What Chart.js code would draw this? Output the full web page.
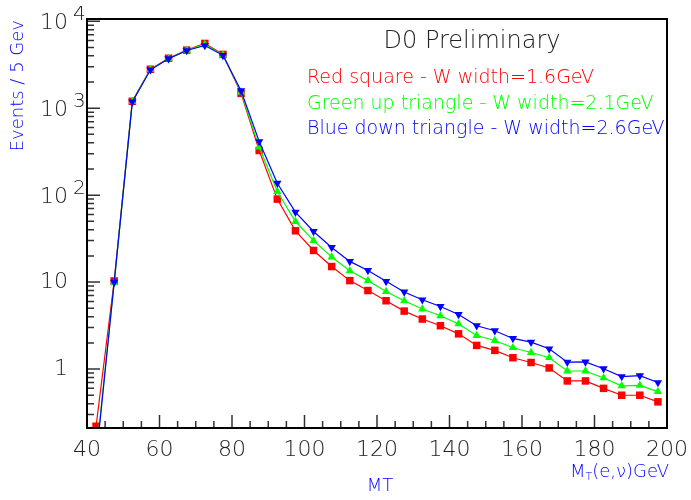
<!DOCTYPE html>
<html>
<head>
<meta charset="utf-8">
<title>D0 Preliminary - W transverse mass</title>
<script src="https://cdn.jsdelivr.net/npm/chart.js@4.4.1/dist/chart.umd.min.js"></script>
<style>
  html, body { margin: 0; padding: 0; background: #fff; }
  #chart { display: block; }
</style>
</head>
<body>
<canvas id="chart" width="691" height="500"></canvas>
<script>
// bin centres (GeV), 5 GeV bins
const mtBins = [42.5, 47.5, 52.5, 57.5, 62.5, 67.5, 72.5, 77.5, 82.5, 87.5,
  92.5, 97.5, 102.5, 107.5, 112.5, 117.5, 122.5, 127.5, 132.5, 137.5,
  142.5, 147.5, 152.5, 157.5, 162.5, 167.5, 172.5, 177.5, 182.5, 187.5,
  192.5, 197.5];

// events / 5 GeV
const width16 = [0.22, 10.3, 1200, 2800, 3750, 4650, 5550, 4150, 1480, 326,
  90, 38.9, 23.1, 15.1, 10.4, 8.0, 6.1, 4.64, 3.76, 3.15,
  2.54, 1.87, 1.64, 1.35, 1.19, 1.03, 0.73, 0.73, 0.60, 0.50,
  0.50, 0.42];
const width21 = [0.1, 9.8, 1190, 2780, 3700, 4620, 5400, 4080, 1530, 357,
  110, 49.7, 30.0, 19.4, 13.5, 10.4, 7.8, 6.1, 4.9, 4.1,
  3.3, 2.43, 2.13, 1.76, 1.55, 1.35, 0.95, 0.95, 0.79, 0.64,
  0.65, 0.55];
const width26 = [0.09, 10, 1180, 2760, 3700, 4600, 5250, 4050, 1590, 413,
  137, 63.8, 38.2, 25.0, 17.3, 13.6, 10.2, 7.7, 6.26, 5.24,
  4.25, 3.15, 2.76, 2.25, 2.04, 1.71, 1.20, 1.21, 1.01, 0.82,
  0.84, 0.70];

// axis ticks
const xTickLabels = [40, 60, 80, 100, 120, 140, 160, 180, 200];
const yTickValues = [1, 10, 100, 1000, 10000];
const yTickBase = ['1', '10', '10', '10', '10'];
const yTickExp = ['', '', '2', '3', '4'];

const plotTitle = 'D0 Preliminary';
const legendLines = [
  'Red square - W width=1.6GeV',
  'Green up triangle - W width=2.1GeV',
  'Blue down triangle - W width=2.6GeV'
];
const legendColors = ['#ff0000', '#00ff00', '#0000ff'];

const FONT = '"DejaVu Sans", sans-serif';
const THIN = '200 ';

function toPoints(values) {
  return mtBins.map((x, i) => ({ x: x, y: values[i] }));
}

// ROOT-like frame, ticks and texts drawn on top of the chart
const rootStyle = {
  id: 'rootStyle',
  afterDraw(chart) {
    const ctx = chart.ctx;
    const area = chart.chartArea;
    const xs = chart.scales.x;
    const ys = chart.scales.y;
    ctx.save();

    // tick marks
    ctx.strokeStyle = '#333';
    ctx.lineWidth = 1.5;
    ctx.beginPath();
    for (let v = xs.min; v <= xs.max; v += 5) {
      const px = xs.getPixelForValue(v);
      const len = v % 20 === 0 ? 13 : 7;
      ctx.moveTo(px, area.bottom);
      ctx.lineTo(px, area.bottom - len);
    }
    for (let e = -1; e <= 4; e++) {
      for (let k = 1; k <= 9; k++) {
        const v = k * Math.pow(10, e);
        if (v < ys.min || v > ys.max) continue;
        const py = ys.getPixelForValue(v);
        const len = k === 1 ? 13 : 7;
        ctx.moveTo(area.left, py);
        ctx.lineTo(area.left + len, py);
      }
    }
    ctx.stroke();

    // frame
    ctx.strokeStyle = '#000';
    ctx.lineWidth = 2;
    ctx.strokeRect(area.left, area.top, area.right - area.left, area.bottom - area.top);

    // x tick labels
    ctx.fillStyle = '#222';
    ctx.font = THIN + '22px ' + FONT;
    ctx.textAlign = 'center';
    ctx.textBaseline = 'middle';
    xTickLabels.forEach(v => {
      ctx.fillText(String(v), xs.getPixelForValue(v), 450);
    });

    // y tick labels (10 with exponent)
    yTickValues.forEach((v, i) => {
      const py = ys.getPixelForValue(v);
      ctx.font = THIN + '22px ' + FONT;
      ctx.textAlign = 'right';
      ctx.textBaseline = 'middle';
      if (yTickExp[i] === '') {
        ctx.fillText(yTickBase[i], 68, py);
      } else {
        ctx.fillText(yTickBase[i], 68, py + 2);
        ctx.font = THIN + '20px ' + FONT;
        ctx.textAlign = 'left';
        ctx.textBaseline = 'alphabetic';
        ctx.fillText(yTickExp[i], 73, py - 1);
      }
    });

    // axis titles
    ctx.fillStyle = '#0000ff';
    ctx.font = THIN + '18px ' + FONT;
    ctx.save();
    ctx.translate(18, 20);
    ctx.rotate(-Math.PI / 2);
    ctx.textAlign = 'right';
    ctx.textBaseline = 'middle';
    ctx.fillText('Events / 5 Gev', 0, 0);
    ctx.restore();

    ctx.textAlign = 'center';
    ctx.textBaseline = 'middle';
    ctx.fillText('MT', 380, 486);

    // M_T(e,nu)GeV, right aligned under the axis end
    ctx.textBaseline = 'alphabetic';
    ctx.textAlign = 'left';
    const bigFont = THIN + '18px ' + FONT;
    const subFont = THIN + '11px ' + FONT;
    ctx.font = bigFont;
    const wM = ctx.measureText('M').width;
    const wRest = ctx.measureText('(e,\u03bd)GeV').width;
    ctx.font = subFont;
    const wT = ctx.measureText('T').width;
    const x0 = 669 - (wM + wT + wRest);
    ctx.font = bigFont;
    ctx.fillText('M', x0, 477);
    ctx.font = subFont;
    ctx.fillText('T', x0 + wM, 480);
    ctx.font = bigFont;
    ctx.fillText('(e,\u03bd)GeV', x0 + wM + wT, 477);

    // title and legend texts
    ctx.fillStyle = '#222';
    ctx.font = THIN + '24px ' + FONT;
    ctx.textAlign = 'center';
    ctx.fillText(plotTitle, 472, 48);

    ctx.font = THIN + '19px ' + FONT;
    ctx.textAlign = 'left';
    legendLines.forEach((line, i) => {
      ctx.fillStyle = legendColors[i];
      ctx.fillText(line, 307, 83 + i * 25.5);
    });

    ctx.restore();
  }
};

const config = {
  type: 'line',
  data: {
    datasets: [
      {
        label: legendLines[2],
        data: toPoints(width26),
        borderColor: '#0000ff',
        backgroundColor: '#0000ff',
        borderWidth: 1.2,
        pointStyle: 'triangle',
        rotation: 180,
        pointRadius: 4.8,
        pointBorderWidth: 0,
        order: 0
      },
      {
        label: legendLines[1],
        data: toPoints(width21),
        borderColor: '#00ff00',
        backgroundColor: '#00ff00',
        borderWidth: 1.2,
        pointStyle: 'triangle',
        pointRadius: 4.8,
        pointBorderWidth: 0,
        order: 1
      },
      {
        label: legendLines[0],
        data: toPoints(width16),
        borderColor: '#ff0000',
        backgroundColor: '#ff0000',
        borderWidth: 1.2,
        pointStyle: 'rect',
        pointRadius: 5.3,
        pointBorderWidth: 0,
        order: 2
      }
    ]
  },
  options: {
    responsive: false,
    animation: false,
    events: [],
    layout: { padding: { top: 19, right: 24, left: 0, bottom: 0 } },
    plugins: {
      legend: { display: false },
      tooltip: { enabled: false }
    },
    scales: {
      x: {
        type: 'linear',
        min: 40,
        max: 200,
        grid: { display: false },
        border: { display: false },
        ticks: { display: false },
        afterFit: s => { s.height = 72; }
      },
      y: {
        type: 'logarithmic',
        min: 0.21,
        max: 10600,
        grid: { display: false },
        border: { display: false },
        ticks: { display: false },
        afterFit: s => { s.width = 87; }
      }
    }
  },
  plugins: [rootStyle]
};

new Chart(document.getElementById('chart').getContext('2d'), config);
</script>
</body>
</html>
